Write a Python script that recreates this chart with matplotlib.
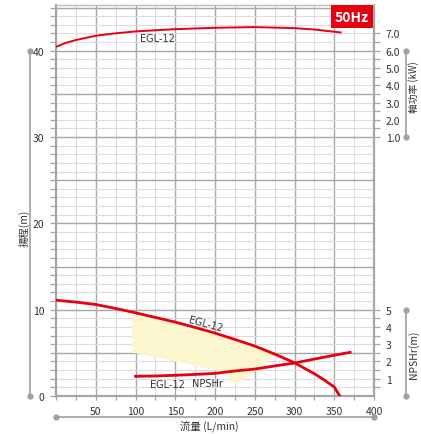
import matplotlib.pyplot as plt
from matplotlib.ticker import MultipleLocator, FixedLocator, FuncFormatter
from matplotlib.transforms import blended_transform_factory

plt.rcParams["font.family"] = ["Noto Sans CJK TC", "DejaVu Sans"]

# flow [L/min] vs head [m]
head_flow = [0, 25, 50, 75, 100, 125, 150, 175, 200, 225, 250, 275, 300, 325, 337.5, 350, 357]
head_m = [11.1, 10.88, 10.6, 10.14, 9.64, 9.1, 8.56, 7.94, 7.29, 6.55, 5.79, 4.86, 3.85, 2.58, 1.85, 1.04, 0.0]

# flow vs shaft power [kW]
power_flow = [0, 12, 25, 50, 75, 100, 150, 200, 250, 300, 325, 358]
power_kw = [6.23, 6.45, 6.62, 6.87, 7.01, 7.12, 7.25, 7.33, 7.37, 7.31, 7.23, 7.06]

# flow vs NPSHr [m]
npsh_flow = [100, 125, 150, 175, 200, 225, 250, 275, 300, 325, 350, 370]
npsh_m = [1.14, 1.16, 1.2, 1.25, 1.31, 1.45, 1.56, 1.74, 1.91, 2.14, 2.36, 2.53]

# recommended operating zone (flow, head)
zone_flow = [96, 125, 150, 175, 200, 225, 250, 275, 252, 225, 210, 96]
zone_head = [9.4, 9.1, 8.56, 7.94, 7.29, 6.55, 5.79, 4.7, 2.93, 1.3, 2.8, 5.06]

x_ticks = [50, 100, 150, 200, 250, 300, 350, 400]
power_ticks = [1, 2, 3, 4, 5, 6, 7]
npsh_ticks = [1, 2, 3, 4, 5]

RED = "#e60012"
AXIS_GREY = "#a6a6a6"
TEXT = "#333333"

fig = plt.figure(figsize=(4.21, 4.35), dpi=100)
ax = fig.add_axes([56 / 421, 38 / 435, 318 / 421, 391 / 435])

H_MAX = 45.3
ax.set_xlim(0, 400)
ax.set_ylim(0, H_MAX)

# grid
ax.xaxis.set_major_locator(FixedLocator(x_ticks))
ax.xaxis.set_minor_locator(MultipleLocator(25))
ax.yaxis.set_major_locator(MultipleLocator(5))
ax.yaxis.set_minor_locator(MultipleLocator(1))
ax.yaxis.set_major_formatter(FuncFormatter(lambda v, p: f"{int(v)}" if v % 10 == 0 else ""))
ax.grid(which="minor", color="#dcdcdc", linewidth=0.8)
ax.grid(which="major", color="#a8a8a8", linewidth=1.0)
ax.set_axisbelow(True)

for side in ["left", "bottom", "right"]:
    ax.spines[side].set_color(AXIS_GREY)
    ax.spines[side].set_linewidth(1.6)
ax.spines["top"].set_color("#bbbbbb")
ax.spines["top"].set_linewidth(1.0)

ax.tick_params(which="both", colors=AXIS_GREY, labelcolor=TEXT, labelsize=7.5)
ax.tick_params(axis="y", which="both", length=4.5, width=0.9, pad=4)
ax.tick_params(axis="x", which="both", length=3, width=0.9, pad=4)

# operating zone
ax.fill(zone_flow, zone_head, color="#fcf6cf", zorder=1.5, linewidth=0)

# head curve
ax.plot(head_flow, head_m, color=RED, linewidth=2.0, zorder=3)

# shaft power axis
ax_p = ax.twinx()
ax_p.set_ylim(-14, -14 + H_MAX / 2)
ax_p.yaxis.set_major_locator(FixedLocator(power_ticks))
ax_p.yaxis.set_minor_locator(FixedLocator([1.5, 2.5, 3.5, 4.5, 5.5, 6.5]))
ax_p.yaxis.set_major_formatter(FuncFormatter(lambda v, p: f"{v:.1f}"))
for s in ax_p.spines.values():
    s.set_visible(False)
ax_p.tick_params(which="both", colors=AXIS_GREY, labelcolor=TEXT, labelsize=7.5,
                 length=4.5, width=0.9, pad=4)
ax_p.plot(power_flow, power_kw, color=RED, linewidth=1.4, zorder=3)

# NPSHr axis
ax_n = ax.twinx()
ax_n.set_ylim(0, H_MAX / 2)
ax_n.yaxis.set_major_locator(FixedLocator(npsh_ticks))
ax_n.yaxis.set_minor_locator(FixedLocator([0.5, 1.5, 2.5, 3.5, 4.5]))
for s in ax_n.spines.values():
    s.set_visible(False)
ax_n.tick_params(which="both", colors=AXIS_GREY, labelcolor=TEXT, labelsize=7.5,
                 length=4.5, width=0.9, pad=4)
ax_n.plot(npsh_flow, npsh_m, color=RED, linewidth=2.0, zorder=3)

# curve labels
ax.text(128, 41.45, "EGL-12", fontsize=7, color=TEXT, ha="center", va="center",
        family=["DejaVu Sans"])
ax.text(188, 8.35, "EGL-12", fontsize=7, color=TEXT, ha="center", va="center",
        rotation=-15, family=["DejaVu Sans"])
ax.text(140, 1.4, "EGL-12", fontsize=7, color=TEXT, ha="center", va="center",
        family=["DejaVu Sans"])
ax.text(190, 1.55, "NPSHr", fontsize=7, color=TEXT, ha="center", va="center",
        family=["DejaVu Sans"])

# axis decorations: grey bars with dots
dot = dict(color="#a0a0a0", linewidth=1.2, marker="o", markersize=3.5, clip_on=False)
t_left = blended_transform_factory(fig.transFigure, ax.transData)
ax.plot([30 / 421, 30 / 421], [0, 40], transform=t_left, **dot)
t_pow = blended_transform_factory(fig.transFigure, ax_p.transData)
ax_p.plot([406 / 421, 406 / 421], [1, 6], transform=t_pow, **dot)
t_npsh = blended_transform_factory(fig.transFigure, ax_n.transData)
ax_n.plot([406 / 421, 406 / 421], [0, 5], transform=t_npsh, **dot)
t_bot = blended_transform_factory(ax.transData, fig.transFigure)
ax.plot([0, 400], [17.5 / 435, 17.5 / 435], transform=t_bot, **dot)

fig.text(24 / 421, 1 - 228 / 435, "揚程(m)", rotation=90, fontsize=7.5, color=TEXT,
         ha="center", va="center")
fig.text(414 / 421, 1 - 87 / 435, "軸功率 (kW)", rotation=90, fontsize=7, color=TEXT,
         ha="center", va="center")
fig.text(414 / 421, 1 - 355 / 435, "NPSHr(m)", rotation=90, fontsize=7.5, color=TEXT,
         ha="center", va="center")
fig.text(209 / 421, 1 - 426 / 435, "流量 (L/min)", fontsize=7.5, color=TEXT,
         ha="center", va="center")

# 50Hz badge
fig.text(352 / 421, 1 - 17.5 / 435, "50Hz", fontsize=10, fontweight="bold", color="white",
         ha="center", va="center",
         bbox=dict(boxstyle="square,pad=0.3", facecolor=RED, edgecolor="none"))

fig.savefig("out.png", dpi=100)
